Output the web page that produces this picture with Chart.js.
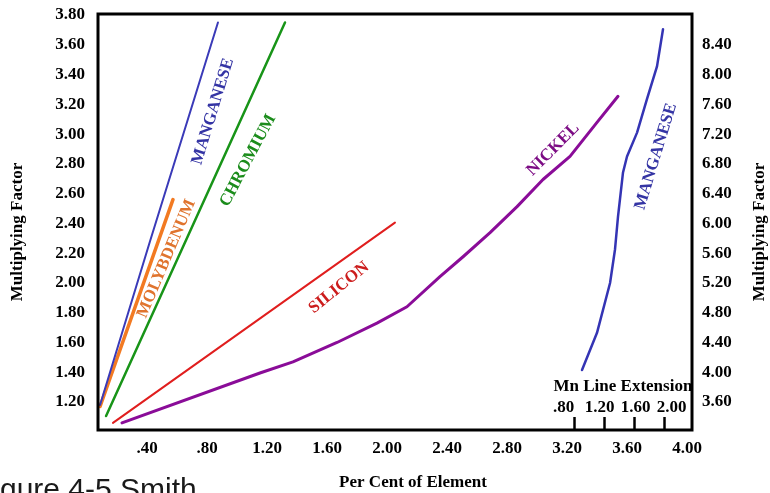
<!DOCTYPE html>
<html><head><meta charset="utf-8">
<script src="https://cdn.jsdelivr.net/npm/chart.js@4.4.1/dist/chart.umd.min.js"></script>
<style>html,body{margin:0;padding:0;background:#fff;}canvas{display:block}</style>
</head><body>
<canvas id="c" width="770" height="493"></canvas>
<script>
// ---- tick values / labels ----
const xTickValues = [0.4, 0.8, 1.2, 1.6, 2.0, 2.4, 2.8, 3.2, 3.6, 4.0];
const xTickLabels = ['.40', '.80', '1.20', '1.60', '2.00', '2.40', '2.80', '3.20', '3.60', '4.00'];
const yLeftTickValues = [1.2, 1.4, 1.6, 1.8, 2.0, 2.2, 2.4, 2.6, 2.8, 3.0, 3.2, 3.4, 3.6, 3.8];
const yLeftTickLabels = ['1.20', '1.40', '1.60', '1.80', '2.00', '2.20', '2.40', '2.60', '2.80', '3.00', '3.20', '3.40', '3.60', '3.80'];
const yRightTickValues = [3.6, 4.0, 4.4, 4.8, 5.2, 5.6, 6.0, 6.4, 6.8, 7.2, 7.6, 8.0, 8.4];
const yRightTickLabels = ['3.60', '4.00', '4.40', '4.80', '5.20', '5.60', '6.00', '6.40', '6.80', '7.20', '7.60', '8.00', '8.40'];
const mnExtTickValues = [0.8, 1.2, 1.6, 2.0];
const mnExtTickLabels = ['.80', '1.20', '1.60', '2.00'];

// ---- series (per cent of element -> multiplying factor) ----
const manganeseX = [0.087, 0.42, 0.873];
const manganeseY = [1.18, 2.28, 3.75];
const molybdenumX = [0.087, 0.573];
const molybdenumY = [1.17, 2.56];
const chromiumX = [0.127, 1.32];
const chromiumY = [1.106, 3.75];
const siliconX = [0.173, 2.053];
const siliconY = [1.06, 2.405];
const nickelX = [0.233, 1.153, 1.373, 1.667, 1.933, 2.133, 2.353, 2.507, 2.687, 2.867, 3.04, 3.22, 3.40, 3.54];
const nickelY = [1.06, 1.395, 1.47, 1.60, 1.73, 1.84, 2.042, 2.176, 2.338, 2.513, 2.695, 2.85, 3.079, 3.254];
// Manganese extension, read on right-hand axis
const mnExtX = [3.30, 3.40, 3.487, 3.52, 3.54, 3.573, 3.60, 3.667, 3.733, 3.80, 3.84];
const mnExtY = [4.03, 4.53, 5.20, 5.65, 6.09, 6.68, 6.90, 7.22, 7.67, 8.11, 8.61];

const pts = (xs, ys) => xs.map((x, i) => ({ x, y: ys[i] }));

const seriesLabels = [
  { text: 'MANGANESE', x: 0.84, y: 3.153, axis: 'y', angle: -73, color: '#3434a4' },
  { text: 'CHROMIUM', x: 1.073, y: 2.823, axis: 'y', angle: -62, color: '#1b8c1b' },
  { text: 'MOLYBDENUM', x: 0.53, y: 2.163, axis: 'y', angle: -67, color: '#e0742e' },
  { text: 'SILICON', x: 1.68, y: 1.968, axis: 'y', angle: -39, color: '#cc1c1c' },
  { text: 'NICKEL', x: 3.107, y: 2.897, axis: 'y', angle: -45, color: '#7c0c84' },
  { text: 'MANGANESE', x: 3.793, y: 2.85, axis: 'y', angle: -73, color: '#3434a4' }
];

const SERIF = '"Liberation Serif", "Times New Roman", serif';
const tickFont = { family: SERIF, size: 17, weight: 'bold' };

const decor = {
  id: 'decor',
  afterDraw(chart) {
    const { ctx, chartArea: a, scales } = chart;
    ctx.save();
    // frame
    ctx.strokeStyle = '#000';
    ctx.lineWidth = 3;
    ctx.strokeRect(a.left, a.top, a.right - a.left, a.bottom - a.top);

    // series labels
    ctx.font = 'bold 17px ' + SERIF;
    ctx.textAlign = 'center';
    ctx.textBaseline = 'middle';
    seriesLabels.forEach(l => {
      const px = scales.x.getPixelForValue(l.x);
      const py = scales[l.axis].getPixelForValue(l.y);
      ctx.save();
      ctx.translate(px, py);
      ctx.rotate(l.angle * Math.PI / 180);
      ctx.fillStyle = l.color;
      ctx.fillText(l.text, 0, 0);
      ctx.restore();
    });

    // Mn line extension inset
    ctx.fillStyle = '#000';
    ctx.strokeStyle = '#000';
    ctx.lineWidth = 2.5;
    const tickXs = mnExtTickValues.map(v => scales.x.getPixelForValue(3.25 + (v - 0.8) / 2));
    tickXs.forEach(tx => {
      ctx.beginPath();
      ctx.moveTo(tx, a.bottom);
      ctx.lineTo(tx, a.bottom - 13);
      ctx.stroke();
    });
    ctx.font = 'bold 17px ' + SERIF;
    ctx.textAlign = 'center';
    mnExtTickLabels.forEach((t, i) => {
      ctx.fillText(t, tickXs[0] - 11 + i * 36, a.bottom - 22);
    });
    ctx.textAlign = 'left';
    ctx.fillText('Mn Line Extension', tickXs[0] - 21, a.bottom - 43);

    // axis titles
    ctx.textAlign = 'center';
    ctx.font = 'bold 17px ' + SERIF;
    ctx.save();
    ctx.translate(18, 232);
    ctx.rotate(-Math.PI / 2);
    ctx.fillText('Multiplying Factor', 0, 0);
    ctx.restore();
    ctx.save();
    ctx.translate(760, 232);
    ctx.rotate(-Math.PI / 2);
    ctx.fillText('Multiplying Factor', 0, 0);
    ctx.restore();
    ctx.fillText('Per Cent of Element', 413, 483);

    // caption
    ctx.textAlign = 'left';
    ctx.textBaseline = 'alphabetic';
    ctx.fillStyle = '#1a1a1a';
    ctx.font = '30px "Liberation Sans", Arial, sans-serif';
    ctx.fillText('Figure 4-5 Smith', -25, 499);
    ctx.restore();
  }
};

const lineDs = (label, xs, ys, color, width, axis) => ({
  label, data: pts(xs, ys), borderColor: color, backgroundColor: color,
  borderWidth: width, pointRadius: 0, showLine: true, fill: false, tension: 0,
  yAxisID: axis, borderCapStyle: 'round', borderJoinStyle: 'round'
});

const noPadV = s => { s.paddingTop = 0; s.paddingBottom = 0; };

new Chart(document.getElementById('c'), {
  type: 'scatter',
  data: {
    datasets: [
      lineDs('Manganese', manganeseX, manganeseY, '#3a3ab8', 2, 'y'),
      lineDs('Molybdenum', molybdenumX, molybdenumY, '#f27a22', 3.5, 'y'),
      lineDs('Chromium', chromiumX, chromiumY, '#189418', 2.5, 'y'),
      lineDs('Silicon', siliconX, siliconY, '#e01e1e', 2, 'y'),
      lineDs('Nickel', nickelX, nickelY, '#8a0c98', 3, 'y'),
      lineDs('Manganese (extension)', mnExtX, mnExtY, '#3434b4', 2.5, 'y1')
    ]
  },
  options: {
    responsive: false,
    animation: false,
    devicePixelRatio: 1,
    layout: { padding: { top: 14, left: 0, right: 0, bottom: 0 } },
    plugins: { legend: { display: false }, tooltip: { enabled: false } },
    scales: {
      x: {
        type: 'linear', min: 0.0733, max: 4.0333,
        grid: { display: false, drawTicks: false }, border: { display: false },
        ticks: { color: '#000', font: tickFont, padding: 8, maxRotation: 0, autoSkip: false,
          callback: (v, i) => xTickLabels[i] },
        afterBuildTicks: s => { s.ticks = xTickValues.map(v => ({ value: v })); },
        afterFit: s => { s.height = 63; s.paddingLeft = 0; s.paddingRight = 0; }
      },
      y: {
        type: 'linear', position: 'left', min: 1.012, max: 3.807,
        grid: { display: false, drawTicks: false }, border: { display: false },
        ticks: { color: '#000', font: tickFont, padding: 13, autoSkip: false,
          callback: (v, i) => yLeftTickLabels[i] },
        afterBuildTicks: s => { s.ticks = yLeftTickValues.map(v => ({ value: v })); },
        afterFit: s => { s.width = 98; noPadV(s); }
      },
      y1: {
        type: 'linear', position: 'right', min: 3.224, max: 8.814,
        grid: { display: false, drawTicks: false }, border: { display: false },
        ticks: { color: '#000', font: tickFont, padding: 10, autoSkip: false,
          callback: (v, i) => yRightTickLabels[i] },
        afterBuildTicks: s => { s.ticks = yRightTickValues.map(v => ({ value: v })); },
        afterFit: s => { s.width = 78; noPadV(s); }
      }
    }
  },
  plugins: [decor]
});
</script>
</body></html>
